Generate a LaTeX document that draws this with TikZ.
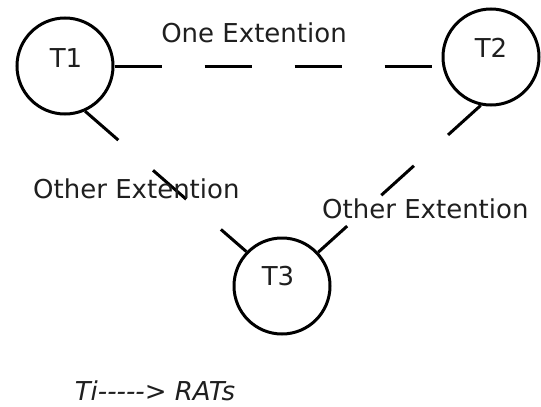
\documentclass[tikz,border=0pt]{standalone}
\usepackage{fontspec}
\setmainfont{DejaVu Sans}
\begin{document}
\begin{tikzpicture}[x=1pt,y=-1pt,
  tcircle/.style={circle,draw=black,line width=3pt,minimum size=96pt,inner sep=0pt},
  lbl/.style={inner sep=0pt,anchor=base,font=\fontsize{26}{30}\selectfont,text=black!88},
  link/.style={line width=3pt,dash pattern=on 44pt off 46pt},
]
\useasboundingbox (0,0) rectangle (541,407);
\node[tcircle] (t1) at (65,66) {};
\node[tcircle] (t2) at (491,57) {};
\node[tcircle] (t3) at (282,286) {};
\node[lbl] (l1) at (66,67) {T1};
\node[lbl] (l2) at (491,57) {T2};
\node[lbl] (l3) at (278,285) {T3};
\coordinate (h1) at (t1.east);
\draw[line width=3pt,dash pattern=on 47pt off 43pt] (h1) -- (h1 -| t2.west);
\draw[link] (t1.-66) -- (t3.136);
\draw[link] (t2.-102) -- (t3.43);
\node[lbl] (oe) at (254,42) {One Extention};
\node[lbl,anchor=base west] (ol) at (33,198) {Other Extention};
\node[lbl,anchor=base west] (or) at (322,218) {Other Extention};
\node[lbl,font=\fontsize{26}{30}\selectfont\itshape] (key) at (155,400) {Ti-{}-{}-{}-{}-{}> RATs};
\end{tikzpicture}
\end{document}
